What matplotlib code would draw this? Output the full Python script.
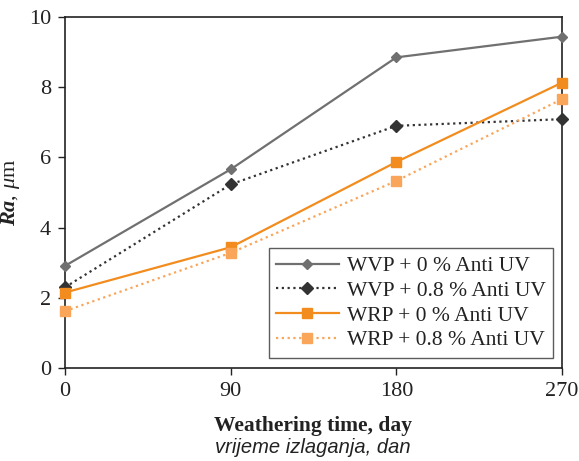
import matplotlib
matplotlib.use("Agg")
import matplotlib.pyplot as plt

# Surface roughness Ra (µm) over weathering time
days = [0, 90, 180, 270]
wvp_0 = [2.91, 5.66, 8.85, 9.44]
wvp_08 = [2.30, 5.23, 6.90, 7.09]
wrp_0 = [2.15, 3.44, 5.87, 8.13]
wrp_08 = [1.62, 3.28, 5.33, 7.66]

labels = ["WVP + 0 % Anti UV", "WVP + 0.8 % Anti UV",
          "WRP + 0 % Anti UV", "WRP + 0.8 % Anti UV"]
y_ticks = [0, 2, 4, 6, 8, 10]

plt.rcParams["font.family"] = ["Liberation Serif", "DejaVu Serif"]
plt.rcParams["mathtext.fontset"] = "custom"
plt.rcParams["mathtext.rm"] = "Liberation Serif"
plt.rcParams["mathtext.it"] = "Liberation Serif:italic"
plt.rcParams["mathtext.bf"] = "Liberation Serif:bold:italic"

fig = plt.figure(figsize=(5.79, 4.61), dpi=100)
ax = fig.add_axes([0.1123, 0.2017, 0.8583, 0.7614])

ax.plot(days, wvp_0, color="#707071", lw=1.6, marker="D", ms=5.5,
        clip_on=False, zorder=3, label=labels[0])
ax.plot(days, wvp_08, color="#333333", lw=1.6, ls=(0, (1, 1.6)), marker="D",
        ms=6.5, clip_on=False, zorder=3, label=labels[1])
ax.plot(days, wrp_0, color="#f28c1e", lw=1.6, marker="s", ms=7,
        clip_on=False, zorder=3, label=labels[2])
ax.plot(days, wrp_08, color="#f9a55a", lw=1.6, ls=(0, (1, 1.6)), marker="s",
        ms=7, clip_on=False, zorder=3, label=labels[3])

ax.set_xlim(0, 270)
ax.set_ylim(0, 10)
ax.set_xticks(days)
ax.set_yticks(y_ticks)
ax.tick_params(direction="out", length=5, width=1, labelsize=16,
               colors="#222222", pad=5)
for s in ax.spines.values():
    s.set_linewidth(1.2)
    s.set_color("#222222")

ax.set_xlabel("Weathering time, day", fontsize=15.5, fontweight="bold",
              color="#222222", labelpad=11)
fig.text(0.541, 0.017, "vrijeme izlaganja, dan", fontsize=14.5,
         style="italic", family="Liberation Sans", ha="center",
         va="baseline", color="#222222")
ax.set_ylabel(r"$\mathbf{Ra}$, $\mathit{\mu}$m", fontsize=16,
              color="#222222", labelpad=5)

leg = ax.legend(loc="lower right", bbox_to_anchor=(0.982, 0.0285),
                fontsize=15.5, frameon=True, fancybox=False,
                handlelength=2.9, handletextpad=0.37, borderpad=0.35,
                labelspacing=0.22, borderaxespad=0)
leg.get_frame().set_edgecolor("#333333")
leg.get_frame().set_linewidth(1.0)
for t in leg.get_texts():
    t.set_color("#222222")

fig.savefig("out.png", dpi=100)
